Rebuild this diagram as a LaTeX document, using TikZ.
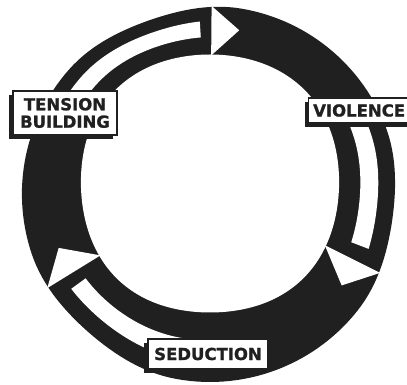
\documentclass[tikz,border=0pt]{standalone}
\usepackage{fontspec}
\newfontfamily\labfont{DejaVu Sans}[BoldFeatures={FakeBold=1.2}]
\usetikzlibrary{shadows}
\definecolor{ink}{RGB}{32,32,32}
% radius at angle #1 and fraction #2 of the ring width (0 = inner edge, 1 = outer edge)
\newcommand\ringR[2]{((131-2*cos(4*(#1))+4.5*sin(#1))*(1-(#2))+(#2)*(188-6*sin(#1)-4*max(0,cos(3*((#1)-110)))*max(0,cos(3*((#1)-110)))))}
\tikzset{
  labbox/.style={draw=ink, line width=1.4pt, fill=white, inner sep=0pt,
    drop shadow={shadow xshift=-4pt, shadow yshift=-4pt, fill=ink, opacity=1}},
  labtext/.style={font=\labfont\bfseries\fontsize{16.5}{17.4}\selectfont, text=ink},
  hole/.style={fill=white}
}
\begin{document}
\begin{tikzpicture}[x=1pt,y=1pt]
\useasboundingbox (0,0) rectangle (407,385);
% dark ring
\fill[ink] plot[domain=0:360, samples=181, variable=\t] ({210+\ringR{\t}{1}*cos(\t)},{197+\ringR{\t}{1}*sin(\t)}) -- cycle;
\fill[white] plot[domain=0:360, samples=181, variable=\t] ({210+\ringR{\t}{0}*cos(\t)},{197+\ringR{\t}{0}*sin(\t)}) -- cycle;
% hollow arrow bodies
\fill[hole] plot[domain=155:93.5, samples=50, variable=\t] ({210+\ringR{\t}{0.71}*cos(\t)},{197+\ringR{\t}{0.71}*sin(\t)})
  -- plot[domain=93.5:155, samples=50, variable=\t] ({210+\ringR{\t}{0.37}*cos(\t)},{197+\ringR{\t}{0.37}*sin(\t)}) -- cycle;
\fill[hole] plot[domain=30:-21, samples=50, variable=\t] ({210+\ringR{\t}{0.70}*cos(\t)},{197+\ringR{\t}{0.70}*sin(\t)})
  -- plot[domain=-21:30, samples=50, variable=\t] ({210+\ringR{\t}{0.38}*cos(\t)},{197+\ringR{\t}{0.38}*sin(\t)}) -- cycle;
\fill[hole] plot[domain=262:216, samples=50, variable=\t] ({210+\ringR{\t}{0.70}*cos(\t)},{197+\ringR{\t}{0.70}*sin(\t)})
  -- plot[domain=216:262, samples=50, variable=\t] ({210+\ringR{\t}{0.40}*cos(\t)},{197+\ringR{\t}{0.40}*sin(\t)}) -- cycle;
% white arrowheads cut through the ring
\fill[hole] ({210+\ringR{89.5}{-0.02}*cos(89.5)},{197+\ringR{89.5}{-0.02}*sin(89.5)})
  -- ({210+\ringR{89.5}{1.02}*cos(89.5)},{197+\ringR{89.5}{1.02}*sin(89.5)})
  -- ({210+\ringR{79.5}{0.55}*cos(79.5)},{197+\ringR{79.5}{0.55}*sin(79.5)}) -- cycle;
\fill[hole] ({210+\ringR{-26.5}{-0.02}*cos(-26.5)},{197+\ringR{-26.5}{-0.02}*sin(-26.5)})
  -- ({210+\ringR{-26.5}{1.02}*cos(-26.5)},{197+\ringR{-26.5}{1.02}*sin(-26.5)})
  -- ({210+\ringR{-36.5}{0.55}*cos(-36.5)},{197+\ringR{-36.5}{0.55}*sin(-36.5)}) -- cycle;
\fill[hole] ({210+\ringR{211.6}{-0.02}*cos(211.6)},{197+\ringR{211.6}{-0.02}*sin(211.6)})
  -- ({210+\ringR{211.6}{1.02}*cos(211.6)},{197+\ringR{211.6}{1.02}*sin(211.6)})
  -- ({210+\ringR{201.6}{0.55}*cos(201.6)},{197+\ringR{201.6}{0.55}*sin(201.6)}) -- cycle;
% labels
\node[labbox, labtext, align=center, minimum width=104pt, minimum height=44pt] (tension) at (65,272) {TENSION\\BUILDING};
\node[labbox, minimum width=112pt, minimum height=25pt, anchor=west] (violencebox) at (308,274.5) {};
\node[labtext, inner sep=0pt, anchor=west] (violence) at (313,274.5) {VIOLENCE};
\node[labbox, labtext, minimum width=120pt, minimum height=30pt] (seduction) at (208,31) {SEDUCTION};
\end{tikzpicture}
\end{document}
